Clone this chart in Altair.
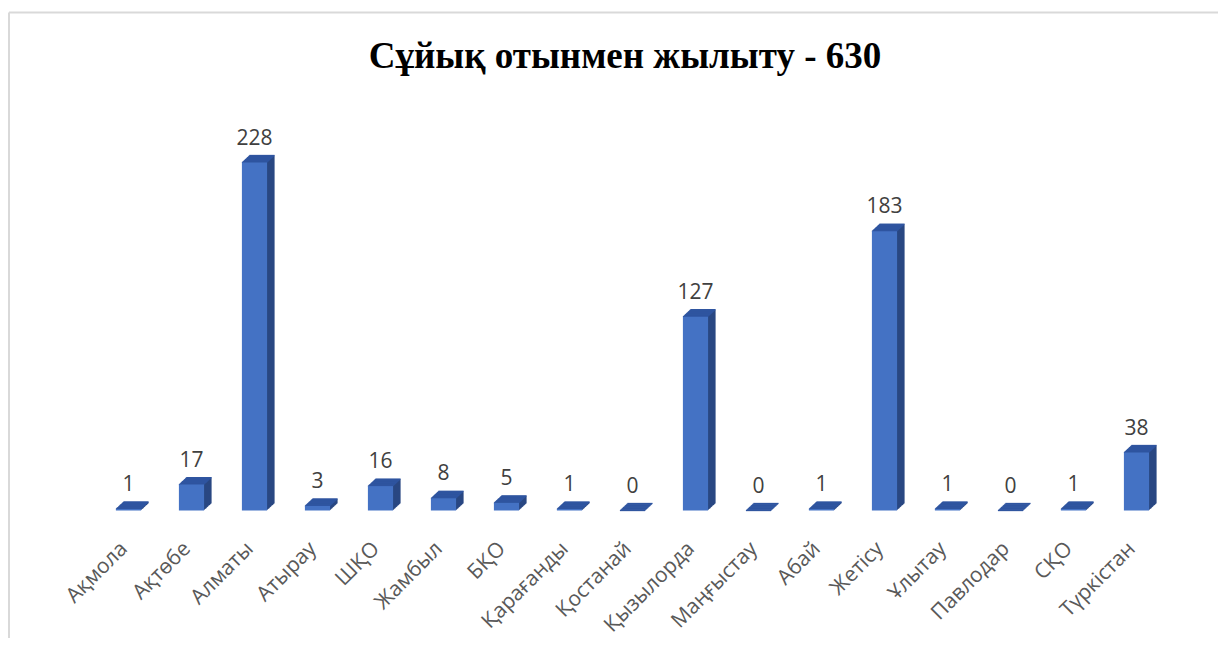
import altair as alt
import pandas as pd

regions = ["Ақмола", "Ақтөбе", "Алматы", "Атырау", "ШҚО", "Жамбыл", "БҚО",
           "Қарағанды", "Қостанай", "Қызылорда", "Маңғыстау", "Абай", "Жетісу",
           "Ұлытау", "Павлодар", "СҚО", "Түркістан"]
values = [1, 17, 228, 3, 16, 8, 5, 1, 0, 127, 0, 1, 183, 1, 0, 1, 38]
title_text = "Сұйық отынмен жылыту - 630"

df = pd.DataFrame({"region": regions, "value": values})

W, H = 1071, 348
PAD_L, PAD_T = 89, 154.5
TOTAL_W, TOTAL_H = 1210, 630
PAD_R = TOTAL_W - PAD_L - W
PAD_B = TOTAL_H - PAD_T - H

FRONT = "#4472C4"
SIDE = "#294782"
TOP = "#2F55A0"
DX, DY = 7.5, 7.0
STEPS = 10

x_enc = alt.X("region:N", sort=regions,
              scale=alt.Scale(paddingInner=0.6, paddingOuter=0.3),
              axis=alt.Axis(title=None, labelAngle=-45, labelFontSize=21,
                            labelFont="Open Sans", labelColor="#595959",
                            ticks=False, domain=False, labelPadding=27,
                            labelOffset=-12, labelLimit=300))
y_enc = alt.Y("value:Q", scale=alt.Scale(domain=[0, 228], nice=False),
              axis=None)

base = alt.Chart(df)

layers = []
# side extrusion
for i in range(1, STEPS + 1):
    ox = DX * i / STEPS
    oy = -DY * i / STEPS
    layers.append(
        base.mark_bar(color=SIDE, xOffset=ox, x2Offset=ox, yOffset=oy, y2Offset=oy)
        .encode(x=x_enc, y=y_enc, y2=alt.datum(0))
    )
# top face
for i in range(0, STEPS + 1):
    ox = DX * i / STEPS
    oy = -DY * i / STEPS
    layers.append(
        base.mark_tick(color=TOP, orient="horizontal", size=25.2, thickness=1.3,
                       xOffset=ox, yOffset=oy, opacity=1)
        .encode(x=x_enc, y=y_enc)
    )
# front face
layers.append(base.mark_bar(color=FRONT).encode(x=x_enc, y=y_enc))
# labels
layers.append(
    base.mark_text(dy=-18, baseline="alphabetic", fontSize=21, font="Open Sans",
                   color="#404040")
    .encode(x=x_enc, y=y_enc, text="value:Q")
)

one = alt.Data(values=[{"t": title_text}])
title_mark = alt.Chart(one).mark_text(
    font="Liberation Serif", fontSize=37, fontWeight="bold", color="#000000",
    align="center", baseline="alphabetic"
).encode(x=alt.value(625 - 97), y=alt.value(68 - 162.5), text="t:N")

top_rule = alt.Chart(one).mark_rule(color="#D9D9D9", strokeWidth=2).encode(
    x=alt.value(-PAD_L + 1), x2=alt.value(W + PAD_R), y=alt.value(-PAD_T + 4.5))
left_rule = alt.Chart(one).mark_rule(color="#D9D9D9", strokeWidth=2).encode(
    x=alt.value(-PAD_L + 1), y=alt.value(-PAD_T + 4.5), y2=alt.value(H + PAD_B))

chart = alt.layer(top_rule, left_rule, title_mark, *layers).properties(
    width=W, height=H,
    autosize=alt.AutoSizeParams(type="none"),
    padding={"left": PAD_L, "top": PAD_T, "right": PAD_R, "bottom": PAD_B},
).configure_view(stroke=None)

chart.save("out.html", embed_options={"renderer": "svg", "actions": False})
